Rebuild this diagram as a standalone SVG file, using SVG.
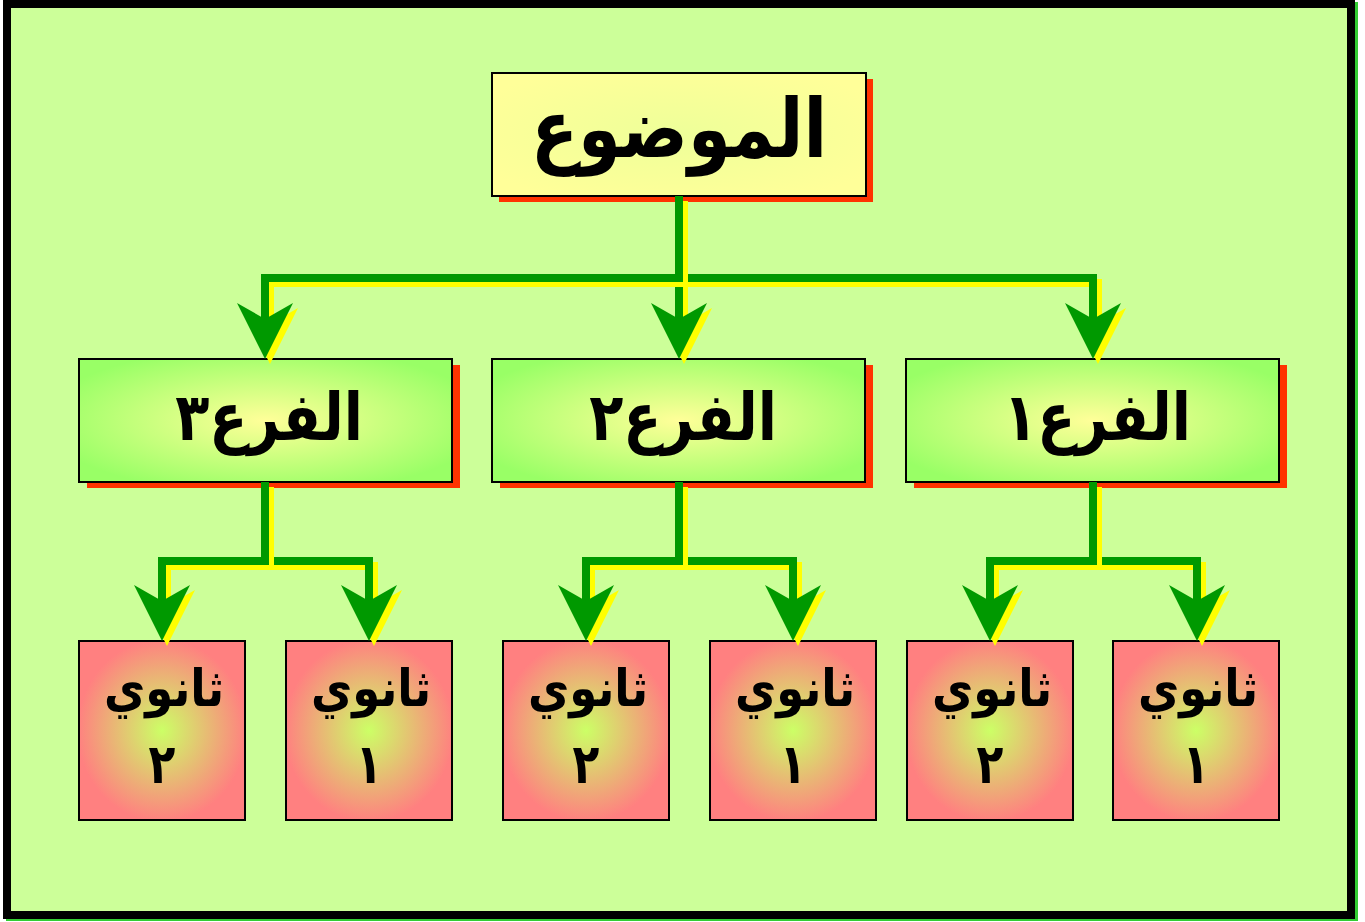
<svg xmlns="http://www.w3.org/2000/svg" xmlns:xlink="http://www.w3.org/1999/xlink" width="1365" height="922" viewBox="0 0 1365 922">
<defs>
<style>
.shadow{fill:#FF3300}
.box{stroke:#000;stroke-width:2}
.top{fill:url(#gTop)}
.br{fill:url(#gBr)}
.leaf{fill:url(#gLeaf)}
.t{font-family:"DejaVu Sans","Noto Sans",sans-serif;font-weight:bold;fill:#000;text-anchor:middle;direction:rtl}
.ln{fill:none;stroke-width:8;stroke-linejoin:miter;stroke-linecap:butt}
.g{stroke:#009900}
.y{stroke:#FFFF00}
.ga{fill:#009900}
.ya{fill:#FFFF00}
</style>
<radialGradient id="gTop" cx="0.5" cy="0.5" r="0.6">
<stop offset="0" stop-color="#EEFF99"/>
<stop offset="1" stop-color="#FFFF99"/>
</radialGradient>
<radialGradient id="gBr" cx="0.5" cy="0.5" r="0.6">
<stop offset="0" stop-color="#FFFF99"/>
<stop offset="1" stop-color="#99FF66"/>
</radialGradient>
<radialGradient id="gLeaf" cx="0.5" cy="0.5" r="0.6">
<stop offset="0" stop-color="#CCFF66"/>
<stop offset="0.85" stop-color="#FF8080"/>
</radialGradient>
<path id="ah" d="M0,0 L-28,-56 L0,-40 L28,-56 Z"/>
</defs>

<rect width="1365" height="922" fill="#fff"/>
<g id="frame">
<rect x="10" y="6" width="1344" height="911" fill="none" stroke="#33CC33" stroke-width="8"/>
<rect x="7" y="4" width="1344" height="911" fill="#CCFF99" stroke="#000" stroke-width="8"/>
</g>

<g id="nodes">
<g id="n-root">
<rect class="shadow" x="499" y="79" width="374" height="123"/>
<rect class="box top" x="492" y="73" width="374" height="123"/>
<text class="t" transform="translate(679,157) scale(1,1.18)" font-size="69">الموضوع</text>
</g>
<g id="n-b3">
<rect class="shadow" x="87" y="365" width="373" height="123"/>
<rect class="box br" x="79" y="359" width="373" height="123"/>
<text class="t" transform="translate(269,440) scale(1,1.18)" font-size="56">الفرع٣</text>
</g>
<g id="n-b2">
<rect class="shadow" x="500" y="365" width="373" height="123"/>
<rect class="box br" x="492" y="359" width="373" height="123"/>
<text class="t" transform="translate(683,440) scale(1,1.18)" font-size="56">الفرع٢</text>
</g>
<g id="n-b1">
<rect class="shadow" x="914" y="365" width="373" height="123"/>
<rect class="box br" x="906" y="359" width="373" height="123"/>
<text class="t" transform="translate(1097,440) scale(1,1.18)" font-size="56">الفرع١</text>
</g>
<g id="n-b3-2">
<rect class="box leaf" x="79" y="641" width="166" height="179"/>
<text class="t" transform="translate(164,706) scale(1,1.15)" font-size="45">ثانوي</text>
<text class="t" transform="translate(162,783) scale(1,1.25)" font-size="44">٢</text>
</g>
<g id="n-b3-1">
<rect class="box leaf" x="286" y="641" width="166" height="179"/>
<text class="t" transform="translate(371,706) scale(1,1.15)" font-size="45">ثانوي</text>
<text class="t" transform="translate(369,783) scale(1,1.25)" font-size="44">١</text>
</g>
<g id="n-b2-2">
<rect class="box leaf" x="503" y="641" width="166" height="179"/>
<text class="t" transform="translate(588,706) scale(1,1.15)" font-size="45">ثانوي</text>
<text class="t" transform="translate(586,783) scale(1,1.25)" font-size="44">٢</text>
</g>
<g id="n-b2-1">
<rect class="box leaf" x="710" y="641" width="166" height="179"/>
<text class="t" transform="translate(795,706) scale(1,1.15)" font-size="45">ثانوي</text>
<text class="t" transform="translate(793,783) scale(1,1.25)" font-size="44">١</text>
</g>
<g id="n-b1-2">
<rect class="box leaf" x="907" y="641" width="166" height="179"/>
<text class="t" transform="translate(992,706) scale(1,1.15)" font-size="45">ثانوي</text>
<text class="t" transform="translate(990,783) scale(1,1.25)" font-size="44">٢</text>
</g>
<g id="n-b1-1">
<rect class="box leaf" x="1113" y="641" width="166" height="179"/>
<text class="t" transform="translate(1198,706) scale(1,1.15)" font-size="45">ثانوي</text>
<text class="t" transform="translate(1196,783) scale(1,1.25)" font-size="44">١</text>
</g>
</g>

<g id="connectors">
<g transform="translate(5,5)"><path class="ln y" d="M679,196 V278 H1093 V335"/><use xlink:href="#ah" class="ya" x="1093" y="359"/></g>
<path class="ln g" d="M679,196 V278 H1093 V335"/><use xlink:href="#ah" class="ga" x="1093" y="359"/>
<g transform="translate(5,5)"><path class="ln y" d="M679,196 V335"/><use xlink:href="#ah" class="ya" x="679" y="359"/></g>
<path class="ln g" d="M679,196 V335"/><use xlink:href="#ah" class="ga" x="679" y="359"/>
<g transform="translate(5,5)"><path class="ln y" d="M679,196 V278 H265 V335"/><use xlink:href="#ah" class="ya" x="265" y="359"/></g>
<path class="ln g" d="M679,196 V278 H265 V335"/><use xlink:href="#ah" class="ga" x="265" y="359"/>

<g transform="translate(5,5)"><path class="ln y" d="M265,482 V561 H369 V617"/><use xlink:href="#ah" class="ya" x="369" y="641"/></g>
<path class="ln g" d="M265,482 V561 H369 V617"/><use xlink:href="#ah" class="ga" x="369" y="641"/>
<g transform="translate(5,5)"><path class="ln y" d="M265,482 V561 H162 V617"/><use xlink:href="#ah" class="ya" x="162" y="641"/></g>
<path class="ln g" d="M265,482 V561 H162 V617"/><use xlink:href="#ah" class="ga" x="162" y="641"/>

<g transform="translate(5,5)"><path class="ln y" d="M679,482 V561 H793 V617"/><use xlink:href="#ah" class="ya" x="793" y="641"/></g>
<path class="ln g" d="M679,482 V561 H793 V617"/><use xlink:href="#ah" class="ga" x="793" y="641"/>
<g transform="translate(5,5)"><path class="ln y" d="M679,482 V561 H586 V617"/><use xlink:href="#ah" class="ya" x="586" y="641"/></g>
<path class="ln g" d="M679,482 V561 H586 V617"/><use xlink:href="#ah" class="ga" x="586" y="641"/>

<g transform="translate(5,5)"><path class="ln y" d="M1093,482 V561 H1197 V617"/><use xlink:href="#ah" class="ya" x="1197" y="641"/></g>
<path class="ln g" d="M1093,482 V561 H1197 V617"/><use xlink:href="#ah" class="ga" x="1197" y="641"/>
<g transform="translate(5,5)"><path class="ln y" d="M1093,482 V561 H990 V617"/><use xlink:href="#ah" class="ya" x="990" y="641"/></g>
<path class="ln g" d="M1093,482 V561 H990 V617"/><use xlink:href="#ah" class="ga" x="990" y="641"/>
</g>
</svg>
